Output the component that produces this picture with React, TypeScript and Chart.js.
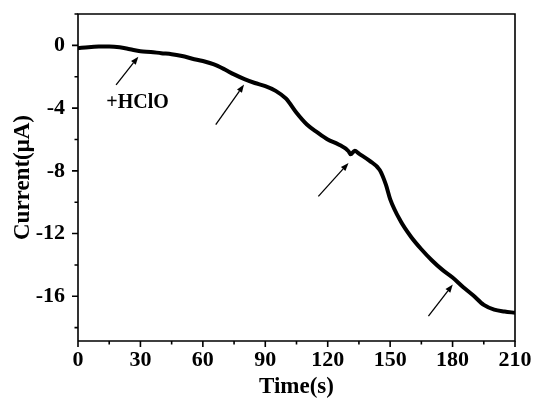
import React, { useEffect, useRef } from "react";
import { Chart, registerables } from "chart.js";

Chart.register(...registerables);

const timeS = [0, 5, 10, 15, 20, 25, 30, 35, 40, 45, 50, 55, 60, 65, 70, 75, 80, 85, 90, 95, 100, 105, 110, 115, 120, 125, 130, 131, 133, 135, 140, 145, 148, 150, 155, 160, 165, 170, 175, 180, 185, 190, 195, 200, 205, 210];
const currentUA = [-0.18, -0.12, -0.08, -0.07, -0.12, -0.25, -0.38, -0.42, -0.5, -0.56, -0.68, -0.85, -1.0, -1.2, -1.5, -1.85, -2.15, -2.4, -2.6, -2.9, -3.4, -4.3, -5.05, -5.55, -6.0, -6.3, -6.75, -6.95, -6.72, -6.9, -7.35, -7.95, -8.9, -9.8, -11.2, -12.2, -13.0, -13.7, -14.3, -14.8, -15.4, -15.95, -16.55, -16.85, -16.97, -17.05];

const xTicks = [0, 15, 30, 45, 60, 75, 90, 105, 120, 135, 150, 165, 180, 195, 210];
const xLabelTicks = [0, 30, 60, 90, 120, 150, 180, 210];
const yTicks = [-18, -16, -14, -12, -10, -8, -6, -4, -2, 0, 2];
const yLabelTicks = [0, -4, -8, -12, -16];

// arrows: [x, y] in data units
const arrowTails = [
  [18.3, -2.52],
  [66.2, -5.06],
  [115.5, -9.63],
  [168.4, -17.27],
];
const arrowTips = [
  [29.0, -0.72],
  [79.8, -2.5],
  [130.0, -7.5],
  [180.1, -15.25],
];
const annotationText = "+HClO";
const annotationPos = [28.6, -3.66];

const FONT = "'Liberation Serif', 'Times New Roman', serif";

const decorPlugin = {
  id: "decor",
  afterDraw(chart: any) {
    const ctx = chart.ctx;
    const xs = chart.scales.x;
    const ys = chart.scales.y;
    const area = chart.chartArea;
    ctx.save();
    ctx.strokeStyle = "#000";
    ctx.lineWidth = 1.6;
    ctx.beginPath();
    ctx.moveTo(area.left, area.bottom);
    ctx.lineTo(area.left, area.top);
    ctx.lineTo(area.right, area.top);
    ctx.lineTo(area.right, area.bottom);
    ctx.lineTo(area.left, area.bottom);
    ctx.stroke();
    ctx.beginPath();
    xTicks.forEach((v) => {
      const px = xs.getPixelForValue(v);
      const len = xLabelTicks.includes(v) ? 6 : 3.5;
      ctx.moveTo(px, area.bottom);
      ctx.lineTo(px, area.bottom + len);
    });
    yTicks.forEach((v) => {
      const py = ys.getPixelForValue(v);
      const len = yLabelTicks.includes(v) ? 6 : 3.5;
      ctx.moveTo(area.left, py);
      ctx.lineTo(area.left - len, py);
    });
    ctx.stroke();
    ctx.lineWidth = 1.3;
    ctx.fillStyle = "#000";
    arrowTails.forEach((t, i) => {
      const tip = arrowTips[i];
      const x0 = xs.getPixelForValue(t[0]);
      const y0 = ys.getPixelForValue(t[1]);
      const x1 = xs.getPixelForValue(tip[0]);
      const y1 = ys.getPixelForValue(tip[1]);
      const ang = Math.atan2(y1 - y0, x1 - x0);
      const hl = 8;
      const hw = 3;
      const bx = x1 - hl * Math.cos(ang);
      const by = y1 - hl * Math.sin(ang);
      ctx.beginPath();
      ctx.moveTo(x0, y0);
      ctx.lineTo(bx, by);
      ctx.stroke();
      ctx.beginPath();
      ctx.moveTo(x1, y1);
      ctx.lineTo(bx + hw * Math.sin(ang), by - hw * Math.cos(ang));
      ctx.lineTo(bx - hw * Math.sin(ang), by + hw * Math.cos(ang));
      ctx.closePath();
      ctx.fill();
    });
    ctx.font = `bold 20px ${FONT}`;
    ctx.textAlign = "center";
    ctx.textBaseline = "middle";
    ctx.fillText(annotationText, xs.getPixelForValue(annotationPos[0]), ys.getPixelForValue(annotationPos[1]));
    ctx.restore();
  },
};

export default function App() {
  const ref = useRef<HTMLCanvasElement>(null);
  useEffect(() => {
    document.body.style.margin = "0";
    const points = timeS.map((t, i) => ({ x: t, y: currentUA[i] }));
    const chart = new Chart(ref.current as HTMLCanvasElement, {
      type: "line",
      data: {
        datasets: [
          {
            data: points,
            borderColor: "#000",
            borderWidth: 4,
            pointRadius: 0,
            tension: 0.4,
            cubicInterpolationMode: "monotone",
            fill: false,
          },
        ],
      },
      options: {
        animation: false,
        responsive: false,
        layout: { padding: { left: 0, top: 14, right: 22, bottom: 0 } },
        plugins: { legend: { display: false }, tooltip: { enabled: false } },
        scales: {
          x: {
            type: "linear",
            min: 0,
            max: 210,
            afterBuildTicks: (s: any) => {
              s.ticks = xLabelTicks.map((v) => ({ value: v }));
            },
            afterFit: (s: any) => {
              s.height = 60;
              s.paddingLeft = 0;
              s.paddingRight = 0;
            },
            grid: { display: false, drawTicks: false },
            border: { display: false },
            ticks: {
              color: "#000",
              padding: 6,
              maxRotation: 0,
              autoSkip: false,
              font: { family: FONT, size: 22, weight: "bold" },
            },
            title: {
              display: true,
              text: "Time(s)",
              color: "#000",
              padding: { top: 0, bottom: 0 },
              font: { family: FONT, size: 23, weight: "bold" },
            },
          },
          y: {
            type: "linear",
            min: -18.85,
            max: 2,
            afterBuildTicks: (s: any) => {
              s.ticks = yLabelTicks.map((v) => ({ value: v }));
            },
            afterFit: (s: any) => {
              s.width = 78;
              s.paddingTop = 0;
              s.paddingBottom = 0;
            },
            grid: { display: false, drawTicks: false },
            border: { display: false },
            ticks: {
              color: "#000",
              padding: 13,
              autoSkip: false,
              font: { family: FONT, size: 22, weight: "bold" },
            },
            title: {
              display: true,
              text: "Current(μA)",
              color: "#000",
              padding: { top: 9, bottom: 0 },
              font: { family: FONT, size: 23, weight: "bold" },
            },
          },
        },
      },
      plugins: [decorPlugin],
    } as any);
    return () => chart.destroy();
  }, []);
  return (
    <div style={{ width: 537, height: 401 }}>
      <canvas ref={ref} width={537} height={401} style={{ display: "block" }} />
    </div>
  );
}
